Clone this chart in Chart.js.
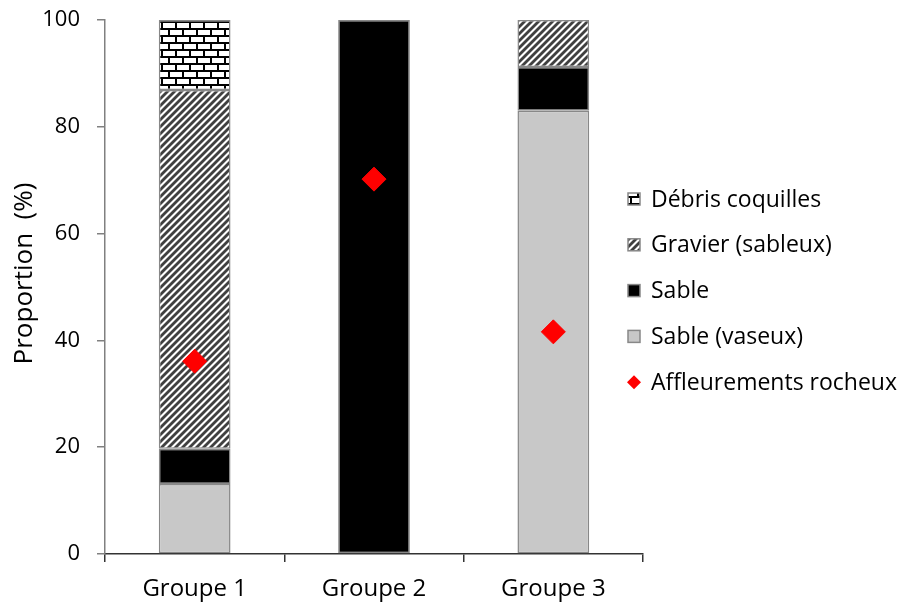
<!DOCTYPE html>
<html>
<head>
<meta charset="utf-8">
<script src="https://cdn.jsdelivr.net/npm/chart.js@4"></script>
<style>
  body { margin: 0; background: #fff; }
</style>
</head>
<body>
<canvas id="graphique" width="903" height="608"></canvas>
<script>
const categories = ['Groupe 1', 'Groupe 2', 'Groupe 3']
const sableVaseux = [13.1, 0, 83.0]
const sable = [6.6, 100, 8.2]
const gravier = [67.2, 0, 8.8]
const debris = [13.1, 0, 0]
const affleurements = [36.1, 70.2, 41.6]
const ticksY = [0, 20, 40, 60, 80, 100]

const police = 'Open Sans'

// motif hachures diagonales (gravier)
function motifGravier() {
  const c = document.createElement('canvas')
  c.width = 7; c.height = 7
  const g = c.getContext('2d')
  g.fillStyle = '#fff'
  g.fillRect(0, 0, 7, 7)
  g.strokeStyle = '#404040'
  g.lineWidth = 2.8
  for (const d of [-7, 0, 7]) {
    g.beginPath()
    g.moveTo(d - 1, 8)
    g.lineTo(d + 8, -1)
    g.stroke()
  }
  return g.createPattern(c, 'repeat')
}

// motif briques (debris coquilles)
function motifBriques() {
  const c = document.createElement('canvas')
  c.width = 14; c.height = 14
  const g = c.getContext('2d')
  g.fillStyle = '#fff'
  g.fillRect(0, 0, 14, 14)
  g.fillStyle = '#000'
  g.fillRect(0, 0, 14, 2)
  g.fillRect(0, 7, 14, 2)
  g.fillRect(0, 0, 2, 7)
  g.fillRect(7, 7, 2, 7)
  return g.createPattern(c, 'repeat')
}

const legendeDroite = {
  id: 'legendeDroite',
  afterDraw(chart) {
    const ctx = chart.ctx
    const sets = chart.data.datasets.slice().reverse()
    ctx.save()
    ctx.font = '23px "' + police + '"'
    ctx.textBaseline = 'middle'
    sets.forEach((ds, i) => {
      const y = 199 + i * 45.8
      if (ds.type === 'line') {
        ctx.fillStyle = '#ff0000'
        ctx.beginPath()
        ctx.moveTo(634, y - 7)
        ctx.lineTo(641, y)
        ctx.lineTo(634, y + 7)
        ctx.lineTo(627, y)
        ctx.closePath()
        ctx.fill()
      } else {
        ctx.fillStyle = ds.backgroundColor
        ctx.fillRect(628, y - 6, 12, 12)
        ctx.strokeStyle = ds.borderColor
        ctx.lineWidth = 1.5
        ctx.strokeRect(628, y - 6, 12, 12)
      }
      ctx.fillStyle = '#000'
      ctx.fillText(ds.label, 651, y + 1)
    })
    ctx.restore()
  }
}

const ctx = document.getElementById('graphique')
new Chart(ctx, {
  type: 'bar',
  data: {
    labels: categories,
    datasets: [
      {
        type: 'line',
        label: 'Affleurements rocheux',
        data: affleurements,
        showLine: false,
        pointStyle: 'rectRot',
        pointRadius: 12,
        pointBackgroundColor: '#ff0000',
        pointBorderColor: '#ff0000',
        pointBorderWidth: 1,
        backgroundColor: '#ff0000',
        borderColor: '#ff0000',
        stack: 'points',
        order: -1
      },
      { label: 'Sable (vaseux)', data: sableVaseux, backgroundColor: '#c8c8c8', borderColor: '#888', order: 1 },
      { label: 'Sable', data: sable, backgroundColor: '#000', borderColor: '#888', order: 1 },
      { label: 'Gravier (sableux)', data: gravier, backgroundColor: motifGravier(), borderColor: '#888', order: 1 },
      { label: 'Débris coquilles', data: debris, backgroundColor: motifBriques(), borderColor: '#888', order: 1 }
    ]
  },
  options: {
    responsive: false,
    animation: false,
    datasets: {
      bar: { categoryPercentage: 1, barPercentage: 0.4, borderWidth: 1.5, borderSkipped: false, stack: 'sol' }
    },
    layout: { padding: { top: 20, right: 260, left: 0, bottom: 0 } },
    plugins: { legend: { display: false }, tooltip: { enabled: false } },
    scales: {
      x: {
        stacked: true,
        offset: true,
        grid: { offset: true, drawOnChartArea: false, drawTicks: true, tickLength: 8, color: '#333', lineWidth: 1.5 },
        border: { color: '#333', width: 1.5 },
        ticks: { color: '#000', font: { family: police, size: 24 }, padding: 13 },
        afterFit(s) { s.height = 54; s.paddingLeft = 0; s.paddingRight = 0 }
      },
      y: {
        stacked: true,
        min: 0,
        max: 100,
        afterBuildTicks(s) { s.ticks = ticksY.map(v => ({ value: v })) },
        grid: { drawOnChartArea: false, drawTicks: true, tickLength: 8, color: '#808080', lineWidth: 1.5 },
        border: { color: '#808080', width: 1.5 },
        ticks: { color: '#000', font: { family: police, size: 22 }, padding: 17 },
        title: { display: true, text: '    Proportion  (%)', color: '#000', font: { family: police, size: 26 }, padding: { top: 9, bottom: 0 } },
        afterFit(s) { s.width = 105; s.paddingTop = 0; s.paddingBottom = 0 }
      }
    }
  },
  plugins: [legendeDroite]
})
</script>
</body>
</html>
